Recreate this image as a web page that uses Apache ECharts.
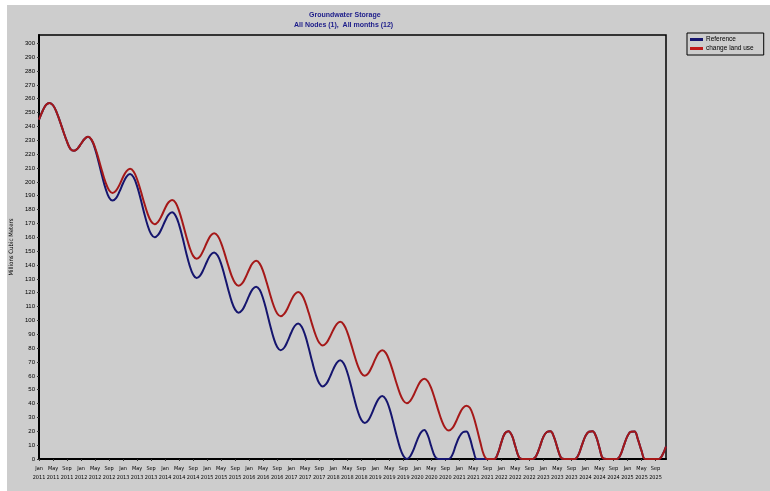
<!DOCTYPE html>
<html>
<head>
<meta charset="utf-8">
<script src="https://cdn.jsdelivr.net/npm/echarts@6/dist/echarts.min.js"></script>
<style>
html,body{margin:0;padding:0;background:#fff;width:770px;height:491px;overflow:hidden;}
#bg{position:absolute;left:7px;top:5px;width:763px;height:486px;background:#cdcdcd;}
#chart{position:absolute;left:0;top:0;width:770px;height:491px;}
</style>
</head>
<body>
<div id="bg"></div>
<div id="chart"></div>
<script>
const titleText = 'Groundwater Storage';
const subtitleText = 'All Nodes (1),  All months (12)';
const yAxisName = 'Millions Cubic Meters';
const seriesNames = ['Reference', 'change land use'];
const monthNames = ['Jan','Feb','Mar','Apr','May','Jun','Jul','Aug','Sep','Oct','Nov','Dec'];
const years = [2011,2012,2013,2014,2015,2016,2017,2018,2019,2020,2021,2022,2023,2024,2025];

const referenceValues = [
  245, 251, 255.5, 257, 255.3, 250.4, 243.5, 236, 229, 223.7, 222.5, 224,
  227.5, 231, 232.5, 230.2, 223.8, 214.6, 204.4, 195.2, 188.8, 186.5, 188.3, 193.1,
  199, 203.8, 205.6, 203.3, 196.9, 187.8, 177.8, 168.7, 162.3, 160, 161.7, 166.2,
  171.8, 176.3, 178, 175.6, 169, 159.6, 149.1, 139.7, 133.1, 130.7, 132.4, 137,
  142.7, 147.3, 149, 146.8, 140.8, 132.1, 122.5, 113.8, 107.8, 105.6, 107.4, 112.1,
  117.9, 122.6, 124.4, 122.1, 115.7, 106.5, 96.4, 87.2, 80.8, 78.5, 80.3, 85.2,
  91.1, 96, 97.8, 95.5, 89.2, 80.1, 70.1, 61, 54.7, 52.4, 54.2, 58.9,
  64.7, 69.4, 71.2, 68.9, 62.6, 53.6, 43.6, 34.6, 28.3, 26, 27.9, 32.7,
  38.8, 43.6, 45.5, 43.2, 36.9, 27.8, 17.7, 8.6, 2.3, 0, 2, 7.2,
  13.8, 19, 21, 17, 9, 2, 0, 0, 0, 0, 3, 10,
  16, 19.3, 19.8, 15, 6, 0, 0, 0, 0, 0, 0, 4,
  12, 18.5, 20, 17, 9, 1.5, 0, 0, 0, 0, 2.5, 9,
  16, 19.5, 20, 16, 8, 1, 0, 0, 0, 0, 3, 10,
  16.5, 19.7, 20, 16.5, 8, 0.5, 0, 0, 0, 0, 3, 10,
  16.5, 19.7, 19.8, 14, 6, 0, 0, 0, 0, 0, 3, 9
];

const changeLandUseValues = [
  245, 251, 255.5, 257, 255.3, 250.4, 243.5, 236, 229, 223.7, 222.5, 224,
  227.5, 231, 232.5, 230.5, 224.8, 216.7, 207.8, 199.7, 194, 192, 193.7, 198,
  203.5, 207.8, 209.5, 207.5, 201.9, 193.9, 185.1, 177.1, 171.5, 169.5, 171.2, 175.5,
  181, 185.3, 187, 184.9, 178.9, 170.4, 161.1, 152.6, 146.6, 144.5, 146.3, 150.9,
  156.6, 161.2, 163, 161.1, 155.8, 148.2, 139.8, 132.2, 126.9, 125, 126.7, 131.2,
  136.8, 141.3, 143, 141, 135.4, 127.4, 118.6, 110.6, 105, 103, 104.7, 109,
  114.5, 118.8, 120.5, 118.6, 113.2, 105.5, 97, 89.3, 83.9, 82, 83.6, 87.9,
  93.1, 97.4, 99, 97, 91.6, 83.8, 75.2, 67.4, 62, 60, 61.8, 66.4,
  72.1, 76.7, 78.5, 76.6, 71.2, 63.6, 55.2, 47.6, 42.2, 40.3, 42, 46.4,
  51.9, 56.3, 58, 56.1, 50.9, 43.4, 35.1, 27.6, 22.4, 20.5, 22.2, 26.7,
  32.3, 36.8, 38.5, 37, 31, 22, 12, 3, 0, 0, 0, 4,
  12, 18.5, 20, 17, 9, 1.5, 0, 0, 0, 0, 2.5, 9,
  16, 19.5, 20, 16, 8, 1, 0, 0, 0, 0, 3, 10,
  16.5, 19.7, 20, 16.5, 8, 0.5, 0, 0, 0, 0, 3, 10,
  16.5, 19.7, 19.8, 14, 6, 0, 0, 0, 0, 0, 3, 9
];

const categories = [];
years.forEach(y => monthNames.forEach(m => categories.push(m + ' ' + y)));
const lastIndex = categories.length - 1;

const font = 'Liberation Sans, Arial, sans-serif';
const narrow = 'Liberation Sans Narrow, DejaVu Sans Condensed, Liberation Sans, sans-serif';
const everyFourth = (index) => index % 4 === 0;
const chart = echarts.init(document.getElementById('chart'), null, {renderer: 'canvas'});
chart.setOption({
  backgroundColor: 'transparent',
  animation: false,
  graphic: [
    {type: 'text', left: 340 - 31, top: 12, style: {text: titleText, fill: '#1c1c8a', font: 'bold 7px ' + font, textAlign: 'left'}},
    {type: 'text', left: 340 - 46, top: 22, style: {text: subtitleText, fill: '#1c1c8a', font: 'bold 7px ' + font, textAlign: 'left'}}
  ],
  legend: {
    orient: 'vertical',
    left: 687, top: 33,
    data: seriesNames,
    icon: 'rect',
    itemWidth: 13, itemHeight: 3,
    itemGap: 2,
    padding: [3, 10, 3, 3],
    borderColor: '#000', borderWidth: 1,
    textStyle: {fontSize: 6.5, fontFamily: font, color: '#000', padding: [0, 0, 0, -2]}
  },
  grid: {left: 39, top: 35, right: 104, bottom: 32, show: true, borderColor: '#000', borderWidth: 1.5, backgroundColor: 'transparent'},
  xAxis: {
    type: 'category',
    data: categories,
    boundaryGap: false,
    axisLine: {lineStyle: {color: '#000', width: 2}},
    axisTick: {interval: everyFourth, length: 2, lineStyle: {color: '#333'}},
    axisLabel: {
      interval: everyFourth, fontSize: 5.5, fontFamily: narrow, color: '#000', lineHeight: 9, margin: 5,
      hideOverlap: false, showMaxLabel: true, showMinLabel: true,
      formatter: (v, i) => (i === lastIndex ? '' : v.replace(' ', '\n'))
    },
    splitLine: {show: false}
  },
  yAxis: {
    type: 'value', min: 0, max: 306, interval: 10,
    name: yAxisName, nameLocation: 'middle', nameGap: 16, nameRotate: 90,
    nameTextStyle: {fontSize: 6, fontFamily: narrow, color: '#000'},
    axisLine: {show: true, lineStyle: {color: '#000', width: 2}},
    axisTick: {show: true, length: 2, lineStyle: {color: '#333'}},
    axisLabel: {fontSize: 6, fontFamily: font, color: '#000', margin: 4, showMaxLabel: false},
    splitLine: {show: false}
  },
  series: [
    {name: seriesNames[0], type: 'line', data: referenceValues, showSymbol: false, smooth: 0.4,
     lineStyle: {color: '#15156e', width: 2}, itemStyle: {color: '#15156e'}, z: 2},
    {name: seriesNames[1], type: 'line', data: changeLandUseValues, showSymbol: false, smooth: 0.4,
     lineStyle: {color: '#a51818', width: 2}, itemStyle: {color: '#c01818'}, z: 3}
  ]
});
</script>
</body>
</html>
